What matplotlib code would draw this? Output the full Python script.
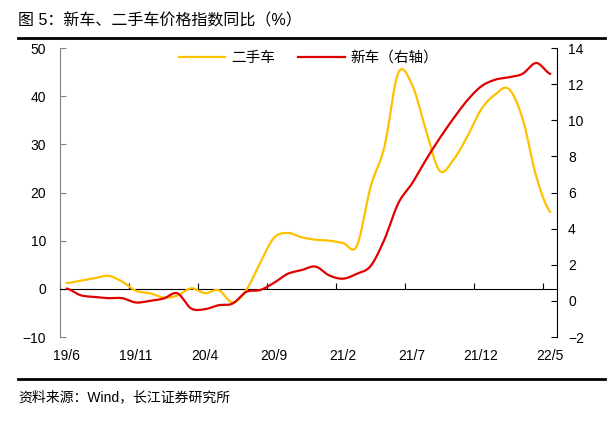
import numpy as np
import matplotlib.pyplot as plt
from matplotlib.lines import Line2D

plt.rcParams['font.family'] = ['Liberation Sans', 'Noto Sans CJK SC']

# monthly data, 2019/6 .. 2022/5
used_car = [1.2, 1.7, 2.2, 2.7, 1.5, -0.4, -0.9, -1.8, -1.4, 0.1, -0.9, -0.3,
            -2.8, -0.2, 5.4, 10.6, 11.6, 10.7, 10.2, 10.0, 9.5, 8.9, 21.2, 29.5,
            44.8, 42.4, 33.0, 24.5, 26.8, 31.6, 37.2, 40.3, 41.5, 35.4, 23.3, 16.0]
new_car = [0.68, 0.31, 0.22, 0.15, 0.15, -0.09, 0.0, 0.13, 0.42, -0.42, -0.46, -0.24,
           -0.15, 0.5, 0.6, 1.0, 1.5, 1.7, 1.9, 1.41, 1.23, 1.5, 1.93, 3.4,
           5.4, 6.5, 7.8, 9.0, 10.1, 11.1, 11.87, 12.24, 12.38, 12.57, 13.17, 12.57]
tick_labels = ['19/6', '19/11', '20/4', '20/9', '21/2', '21/7', '21/12', '22/5']
tick_step = 5

yellow = '#FFC000'
red = '#E00000'


def smooth(y, n=16):
    # catmull-rom curve through the points, like excel's smoothed line
    y = np.asarray(y, dtype=float)
    p = np.concatenate([[y[0]], y, [y[-1]]])
    xs, ys = [], []
    t = np.linspace(0, 1, n, endpoint=False)
    for i in range(len(y) - 1):
        p0, p1, p2, p3 = p[i], p[i + 1], p[i + 2], p[i + 3]
        v = 0.5 * ((2 * p1) + (-p0 + p2) * t + (2 * p0 - 5 * p1 + 4 * p2 - p3) * t ** 2
                   + (-p0 + 3 * p1 - 3 * p2 + p3) * t ** 3)
        xs.extend(i + t)
        ys.extend(v)
    xs.append(len(y) - 1)
    ys.append(y[-1])
    return np.array(xs), np.array(ys)


fig = plt.figure(figsize=(6.16, 4.23), dpi=100)
ax = fig.add_axes([60 / 616, 1 - 337 / 423, 497 / 616, 289 / 423])
ax2 = ax.twinx()

x1, y1 = smooth(used_car)
x2, y2 = smooth(new_car)
ax.plot(x1, y1, color=yellow, lw=1.6, zorder=3)
ax2.plot(x2, y2, color=red, lw=1.6, zorder=3)

n = len(used_car)
ax.set_xlim(-0.5, n - 0.5)
ax.set_ylim(-10, 50)
ax2.set_ylim(-2, 14)
ax.set_yticks(range(-10, 51, 10))
ax2.set_yticks(range(-2, 15, 2))

# x axis line sits on left zero
ax.spines['bottom'].set_position(('data', 0))
ax.spines['bottom'].set_color('black')
ax.spines['top'].set_visible(False)
ax.spines['right'].set_visible(False)
ax.spines['left'].set_color('#808080')
for s in ['top', 'bottom', 'left']:
    ax2.spines[s].set_visible(False)
ax2.spines['right'].set_color('black')

bounds = [k * tick_step - 0.5 for k in range(len(tick_labels))]
ax.set_xticks(bounds)
ax.set_xticklabels([])
ax.tick_params(axis='x', direction='in', length=4, color='black')
ax.tick_params(axis='y', direction='in', length=4, color='#808080', labelsize=10, pad=10)
ax2.tick_params(axis='y', direction='in', length=4, color='black', labelsize=10, pad=8)

for k, lab in enumerate(tick_labels):
    ax.text(k * tick_step, -0.04, lab, transform=ax.get_xaxis_transform(),
            ha='center', va='top', fontsize=10)

handles = [Line2D([], [], color=yellow, lw=1.6), Line2D([], [], color=red, lw=1.6)]
ax2.legend(handles, ['二手车', '新车（右轴）'], loc='upper center', bbox_to_anchor=(0.5, 1.035),
           ncol=2, frameon=False, fontsize=10.5, handlelength=3.2, columnspacing=1.6,
           handletextpad=0.4)

fig.text(18 / 616, 1 - 21 / 423, '图 5：新车、二手车价格指数同比（%）', fontsize=11.5, va='center')
fig.add_artist(Line2D([18 / 616, 605 / 616], [1 - 38 / 423] * 2, color='black', lw=2))
fig.add_artist(Line2D([18 / 616, 605 / 616], [1 - 379 / 423] * 2, color='black', lw=2))
fig.text(18 / 616, 1 - 397 / 423, '资料来源：Wind，长江证券研究所', fontsize=10, va='center')

fig.savefig('out.png', dpi=100)
